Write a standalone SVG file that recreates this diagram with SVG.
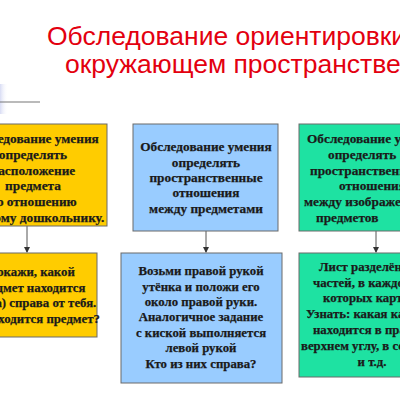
<svg xmlns="http://www.w3.org/2000/svg" width="400" height="400" viewBox="0 0 400 400">
  <style>
    .title { font-family: "Liberation Sans", Arial, sans-serif; font-size: 26.5px; fill: #e3000f; }
    .box { stroke: #6a6a6a; stroke-width: 1; }
    .yellow { fill: #ffcc00; }
    .blue { fill: #99ccff; }
    .green { fill: #1ee2a2; }
    .t { font-family: "Liberation Serif", "Times New Roman", serif; font-weight: bold; font-size: 12.8px; fill: #1a1a1a; stroke: #1a1a1a; stroke-width: 0.25; }
    .top { font-size: 13.3px; }
    .c { text-anchor: middle; }
    .conn { stroke: #555; stroke-width: 1; fill: none; }
  </style>
  <defs>
    <marker id="arr" markerWidth="6" markerHeight="6" refX="5" refY="3" orient="auto" markerUnits="userSpaceOnUse">
      <path d="M0,0 L6,3 L0,6 Z" fill="#333"/>
    </marker>
    <linearGradient id="fade" x1="0" y1="0" x2="1" y2="0">
      <stop offset="0" stop-color="#d8dcf4"/>
      <stop offset="1" stop-color="#ffffff" stop-opacity="0"/>
    </linearGradient>
  </defs>

  <rect x="0" y="84" width="8" height="30" fill="url(#fade)"/>
  <rect x="0" y="101.5" width="40" height="1" fill="#777"/>

  <g id="title">
    <text class="title" x="47" y="45">Обследование ориентировки в</text>
    <text class="title" x="65" y="73">окружающем пространстве</text>
  </g>

  <g id="connectors">
    <line class="conn" x1="27" y1="226" x2="27" y2="252" marker-end="url(#arr)"/>
    <line class="conn" x1="206" y1="231" x2="206" y2="252" marker-end="url(#arr)"/>
    <line class="conn" x1="376" y1="231" x2="376" y2="252" marker-end="url(#arr)"/>
  </g>

  <g id="node-yellow-top">
    <rect class="box yellow" x="-40" y="124" width="147" height="102"/>
    <text class="t top c" x="33" y="143">Обследование умения</text>
    <text class="t top c" x="33" y="159">определять</text>
    <text class="t top c" x="33" y="175">расположение</text>
    <text class="t top c" x="33" y="190">предмета</text>
    <text class="t top c" x="33" y="206">по отношению</text>
    <text class="t top c" x="33" y="222">к самому дошкольнику.</text>
  </g>

  <g id="node-blue-top">
    <rect class="box blue" x="133" y="124" width="145" height="107"/>
    <text class="t top c" x="206" y="151">Обследование умения</text>
    <text class="t top c" x="206" y="167">определять</text>
    <text class="t top c" x="206" y="182">пространственные</text>
    <text class="t top c" x="206" y="197">отношения</text>
    <text class="t top c" x="206" y="213">между предметами</text>
  </g>

  <g id="node-green-top">
    <rect class="box green" x="299" y="124" width="130" height="107"/>
    <text class="t top" x="307" y="143">Обследование умения</text>
    <text class="t top" x="328" y="159">определять</text>
    <text class="t top" x="310" y="175">пространственные</text>
    <text class="t top" x="339" y="190">отношения</text>
    <text class="t top" x="304" y="206">между изображенными</text>
    <text class="t top" x="316" y="222">предметов</text>
  </g>

  <g id="node-yellow-bottom">
    <rect class="box yellow" x="-40" y="253" width="137" height="84"/>
    <text class="t c" x="31" y="276">Покажи, какой</text>
    <text class="t c" x="31" y="292">предмет находится</text>
    <text class="t c" x="31" y="307">(слева) справа от тебя.</text>
    <text class="t c" x="31" y="323">Где находится предмет?</text>
  </g>

  <g id="node-blue-bottom">
    <rect class="box blue" x="121" y="253" width="161" height="130"/>
    <text class="t c" x="201" y="275">Возьми правой рукой</text>
    <text class="t c" x="201" y="291">утёнка и положи его</text>
    <text class="t c" x="201" y="306">около правой руки.</text>
    <text class="t c" x="201" y="321">Аналогичное задание</text>
    <text class="t c" x="201" y="337">с киской выполняется</text>
    <text class="t c" x="201" y="352">левой рукой</text>
    <text class="t c" x="201" y="368">Кто из них  справа?</text>
  </g>

  <g id="node-green-bottom">
    <rect class="box green" x="299" y="253" width="130" height="124"/>
    <text class="t" x="319" y="271">Лист разделён на</text>
    <text class="t" x="313" y="287">частей, в каждой из</text>
    <text class="t" x="323" y="302">которых  картинка.</text>
    <text class="t" x="306" y="318">Узнать: какая картинка</text>
    <text class="t" x="313" y="334">находится в правом</text>
    <text class="t" x="301" y="350">верхнем углу, в середине</text>
    <text class="t c" x="372" y="366">и т.д.</text>
  </g>
</svg>
